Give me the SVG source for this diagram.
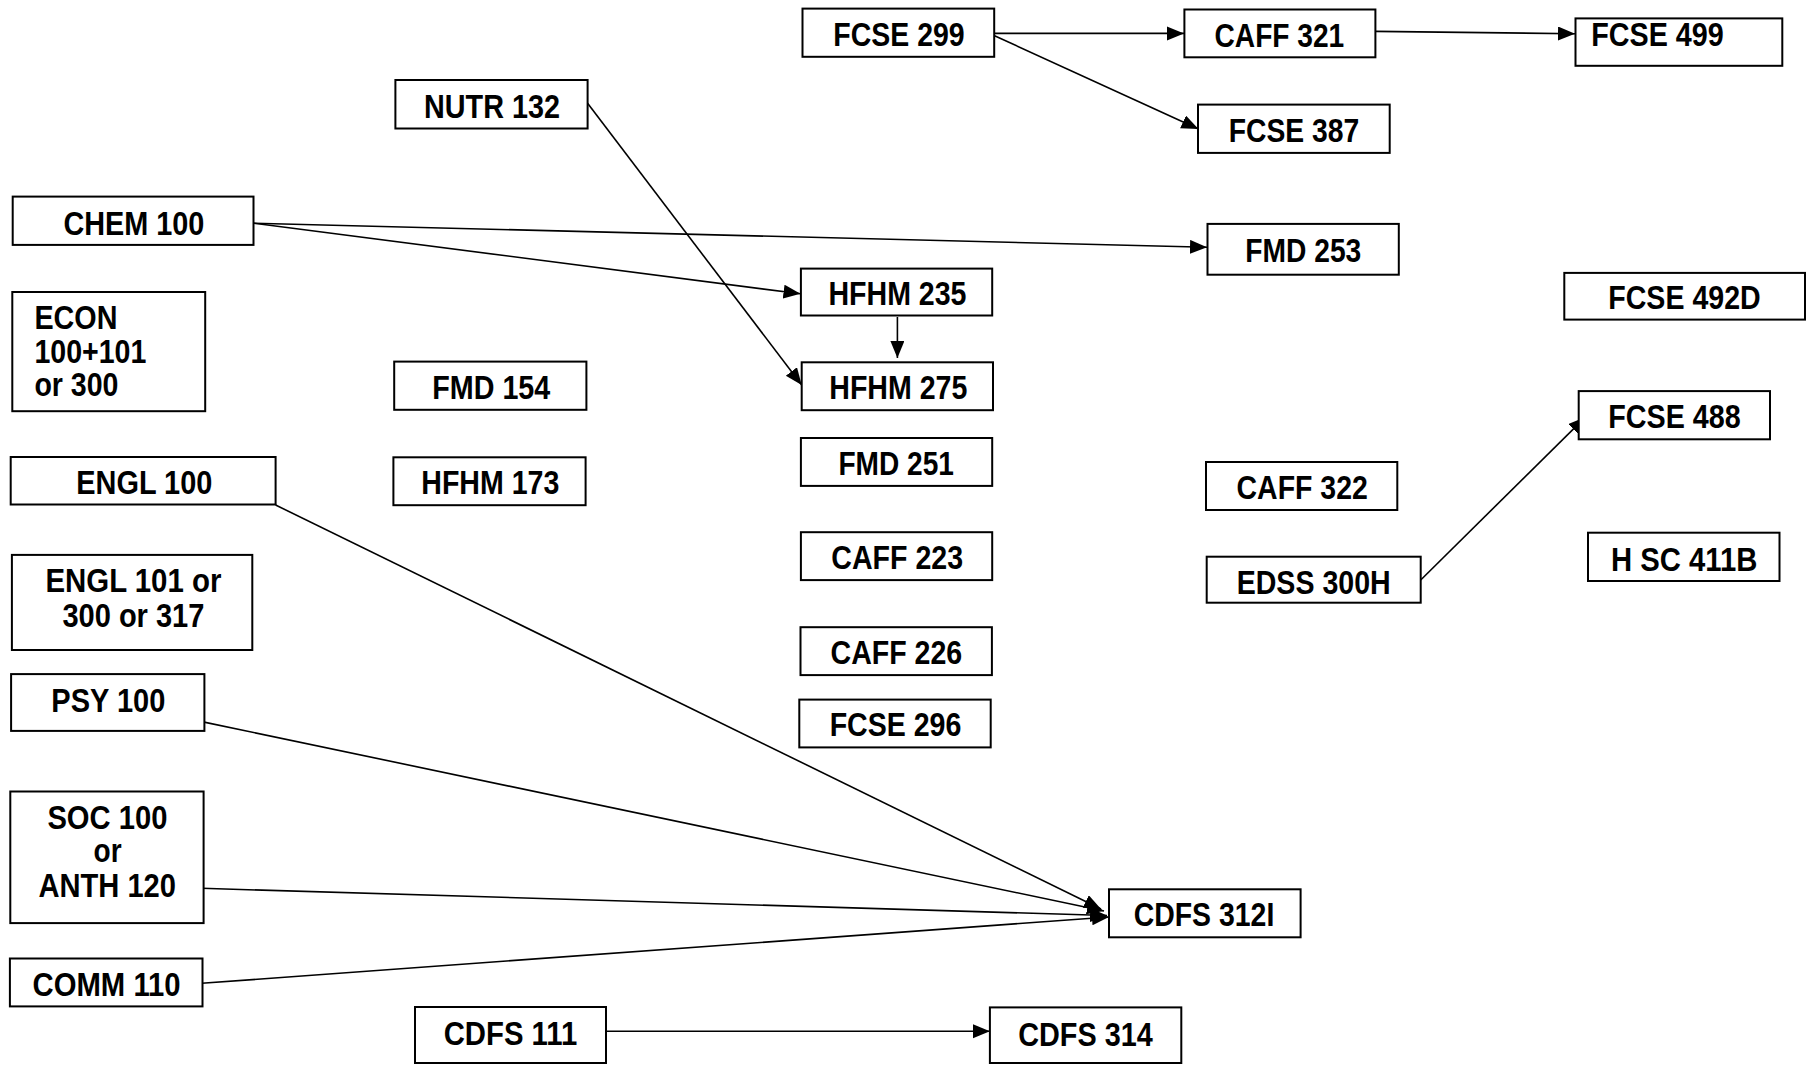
<svg xmlns="http://www.w3.org/2000/svg" width="1808" height="1066" viewBox="0 0 1808 1066">
<style>
.box{fill:#fff;stroke:#000;stroke-width:2}
.t{font-family:"Liberation Sans",Arial,sans-serif;font-weight:bold;font-size:33px;fill:#000;text-anchor:middle}
.l{text-anchor:start}
.c{fill:none;stroke:#000;stroke-width:1.6}
</style>
<defs>
<marker id="ah" markerUnits="userSpaceOnUse" markerWidth="19" markerHeight="15" refX="17" refY="7" orient="auto">
<path d="M0,0 L17,7 L0,14 z" fill="#000"/>
</marker>
</defs>
<rect width="1808" height="1066" fill="#fff"/>
<g id="connectors">
<line class="c" x1="994" y1="33.4" x2="1184" y2="33.4" marker-end="url(#ah)"/>
<line class="c" x1="994" y1="35.5" x2="1198.5" y2="129" marker-end="url(#ah)"/>
<line class="c" x1="1375.4" y1="31.4" x2="1575" y2="33.7" marker-end="url(#ah)"/>
<line class="c" x1="253.5" y1="223.2" x2="1207" y2="247.3" marker-end="url(#ah)"/>
<line class="c" x1="253.5" y1="223.2" x2="800.5" y2="293.8" marker-end="url(#ah)"/>
<line class="c" x1="587.6" y1="103.3" x2="801.7" y2="385" marker-end="url(#ah)"/>
<line class="c" x1="897.4" y1="317" x2="897.4" y2="358" marker-end="url(#ah)"/>
<line class="c" x1="1420.7" y1="580" x2="1585.4" y2="417.1" marker-end="url(#ah)"/>
<line class="c" x1="275.6" y1="505" x2="1101" y2="909" marker-end="url(#ah)"/>
<line class="c" x1="201.7" y1="721.6" x2="1104" y2="911" marker-end="url(#ah)"/>
<line class="c" x1="201.7" y1="888.3" x2="1107" y2="915.5" marker-end="url(#ah)"/>
<line class="c" x1="201.7" y1="983.3" x2="1109" y2="917" marker-end="url(#ah)"/>
<line class="c" x1="606" y1="1031.2" x2="989.9" y2="1031.2" marker-end="url(#ah)"/>
</g>
<g id="nutr132"><rect class="box" x="395.4" y="80" width="192.2" height="48.5"/><text class="t" x="492" y="117.5" textLength="136" lengthAdjust="spacingAndGlyphs">NUTR 132</text></g>
<g id="chem100"><rect class="box" x="12.7" y="196.6" width="240.8" height="48.3"/><text class="t" x="133.9" y="234.5" textLength="141" lengthAdjust="spacingAndGlyphs">CHEM 100</text></g>
<g id="econ"><rect class="box" x="12.3" y="292" width="192.9" height="119.2"/>
<text class="t l" x="34.4" y="329.3" textLength="83" lengthAdjust="spacingAndGlyphs">ECON</text>
<text class="t l" x="34.4" y="362.8" textLength="112" lengthAdjust="spacingAndGlyphs">100+101</text>
<text class="t l" x="34.4" y="396.3" textLength="84" lengthAdjust="spacingAndGlyphs">or 300</text></g>
<g id="fmd154"><rect class="box" x="394.2" y="361.6" width="192.2" height="48.2"/><text class="t" x="491.3" y="399.1" textLength="118" lengthAdjust="spacingAndGlyphs">FMD 154</text></g>
<g id="engl100"><rect class="box" x="10.7" y="457" width="264.9" height="47.5"/><text class="t" x="144.3" y="493.5" textLength="136" lengthAdjust="spacingAndGlyphs">ENGL 100</text></g>
<g id="hfhm173"><rect class="box" x="393.4" y="457.3" width="192.2" height="47.9"/><text class="t" x="490.3" y="493.8" textLength="138" lengthAdjust="spacingAndGlyphs">HFHM 173</text></g>
<g id="engl101"><rect class="box" x="11.9" y="554.9" width="240.4" height="95.1"/>
<text class="t" x="133.4" y="591.7" textLength="176" lengthAdjust="spacingAndGlyphs">ENGL 101 or</text>
<text class="t" x="133.4" y="626.9" textLength="142" lengthAdjust="spacingAndGlyphs">300 or 317</text></g>
<g id="psy100"><rect class="box" x="11.1" y="674.1" width="193.3" height="56.8"/><text class="t" x="108.3" y="711.6" textLength="114" lengthAdjust="spacingAndGlyphs">PSY 100</text></g>
<g id="soc100"><rect class="box" x="10.3" y="791.5" width="193.3" height="131.6"/>
<text class="t" x="107.4" y="828.7" textLength="120" lengthAdjust="spacingAndGlyphs">SOC 100</text>
<text class="t" x="107.6" y="862.1" textLength="28" lengthAdjust="spacingAndGlyphs">or</text>
<text class="t" x="107.2" y="896.5" textLength="137.6" lengthAdjust="spacingAndGlyphs">ANTH 120</text></g>
<g id="comm110"><rect class="box" x="9.9" y="958.5" width="192.6" height="47.9"/><text class="t" x="106.6" y="996.3" textLength="148" lengthAdjust="spacingAndGlyphs">COMM 110</text></g>
<g id="cdfs111"><rect class="box" x="415" y="1007" width="191" height="56"/><text class="t" x="510.5" y="1044.6" textLength="133.6" lengthAdjust="spacingAndGlyphs">CDFS 111</text></g>
<g id="fcse299"><rect class="box" x="802.5" y="8.6" width="191.7" height="48.2"/><text class="t" x="899" y="46.1" textLength="131.3" lengthAdjust="spacingAndGlyphs">FCSE 299</text></g>
<g id="hfhm235"><rect class="box" x="800.9" y="268.6" width="191.3" height="46.9"/><text class="t" x="897.5" y="305.1" textLength="138" lengthAdjust="spacingAndGlyphs">HFHM 235</text></g>
<g id="hfhm275"><rect class="box" x="801.7" y="362.3" width="191.3" height="47.9"/><text class="t" x="898.3" y="399.1" textLength="138" lengthAdjust="spacingAndGlyphs">HFHM 275</text></g>
<g id="fmd251"><rect class="box" x="800.9" y="438" width="191.3" height="47.9"/><text class="t" x="896.2" y="474.8" textLength="115.5" lengthAdjust="spacingAndGlyphs">FMD 251</text></g>
<g id="caff223"><rect class="box" x="800.9" y="532.2" width="191.3" height="47.9"/><text class="t" x="897.2" y="569.3" textLength="131.7" lengthAdjust="spacingAndGlyphs">CAFF 223</text></g>
<g id="caff226"><rect class="box" x="800.5" y="627.2" width="191.4" height="47.9"/><text class="t" x="896.4" y="664" textLength="131.7" lengthAdjust="spacingAndGlyphs">CAFF 226</text></g>
<g id="fcse296"><rect class="box" x="799.3" y="699.6" width="191.4" height="47.8"/><text class="t" x="895.5" y="736.3" textLength="131.7" lengthAdjust="spacingAndGlyphs">FCSE 296</text></g>
<g id="cdfs314"><rect class="box" x="989.9" y="1007.4" width="191.4" height="55.6"/><text class="t" x="1085.5" y="1045.6" textLength="134.5" lengthAdjust="spacingAndGlyphs">CDFS 314</text></g>
<g id="cdfs312i"><rect class="box" x="1109" y="889.3" width="191.6" height="48"/><text class="t" x="1204" y="925.8" textLength="140.6" lengthAdjust="spacingAndGlyphs">CDFS 312I</text></g>
<g id="caff321"><rect class="box" x="1184.4" y="9.5" width="191" height="47.8"/><text class="t" x="1279.4" y="47" textLength="129.7" lengthAdjust="spacingAndGlyphs">CAFF 321</text></g>
<g id="fcse387"><rect class="box" x="1198" y="104.6" width="191.7" height="48.3"/><text class="t" x="1294" y="141.9" textLength="130.5" lengthAdjust="spacingAndGlyphs">FCSE 387</text></g>
<g id="fmd253"><rect class="box" x="1207.5" y="223.9" width="191.3" height="50.8"/><text class="t" x="1303.3" y="261.7" textLength="116" lengthAdjust="spacingAndGlyphs">FMD 253</text></g>
<g id="caff322"><rect class="box" x="1206" y="462" width="191.3" height="48"/><text class="t" x="1302.2" y="499" textLength="131.3" lengthAdjust="spacingAndGlyphs">CAFF 322</text></g>
<g id="edss300h"><rect class="box" x="1206.7" y="556.7" width="214" height="46"/><text class="t" x="1313.7" y="594.3" textLength="154" lengthAdjust="spacingAndGlyphs">EDSS 300H</text></g>
<g id="fcse499"><rect class="box" x="1575.5" y="18.4" width="206.8" height="47.4"/><text class="t" x="1657.5" y="46.2" textLength="132.5" lengthAdjust="spacingAndGlyphs">FCSE 499</text></g>
<g id="fcse492d"><rect class="box" x="1564.3" y="272.9" width="240.7" height="46.7"/><text class="t" x="1684.5" y="309.1" textLength="152.4" lengthAdjust="spacingAndGlyphs">FCSE 492D</text></g>
<g id="fcse488"><rect class="box" x="1578.7" y="391.1" width="191.3" height="48.2"/><text class="t" x="1674.5" y="427.8" textLength="132.5" lengthAdjust="spacingAndGlyphs">FCSE 488</text></g>
<g id="hsc411b"><rect class="box" x="1588" y="532.7" width="191.5" height="48.3"/><text class="t" x="1684.2" y="570.5" textLength="146.4" lengthAdjust="spacingAndGlyphs">H SC 411B</text></g>
</svg>
